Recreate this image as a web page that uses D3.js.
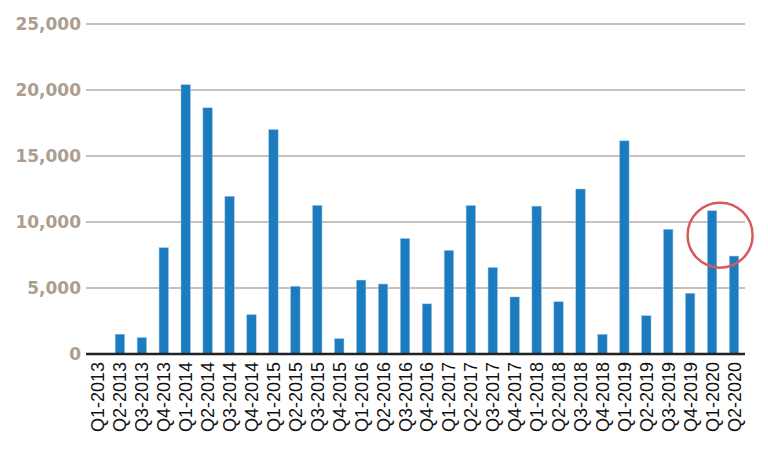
<!DOCTYPE html>
<html><head><meta charset="utf-8">
<script src="https://cdn.jsdelivr.net/npm/d3@7/dist/d3.min.js"></script>
<style>html,body{margin:0;padding:0;background:#fff;}svg{display:block;}</style>
</head><body><svg id="c" width="768" height="453"></svg>
<script>
const categories = ["Q1-2013","Q2-2013","Q3-2013","Q4-2013","Q1-2014","Q2-2014","Q3-2014","Q4-2014",
"Q1-2015","Q2-2015","Q3-2015","Q4-2015","Q1-2016","Q2-2016","Q3-2016","Q4-2016",
"Q1-2017","Q2-2017","Q3-2017","Q4-2017","Q1-2018","Q2-2018","Q3-2018","Q4-2018",
"Q1-2019","Q2-2019","Q3-2019","Q4-2019","Q1-2020","Q2-2020"];
const values = [0,1500,1250,8050,20400,18650,11950,2980,
17000,5130,11260,1160,5600,5300,8750,3800,
7850,11250,6550,4320,11200,3960,12500,1490,
16150,2900,9450,4600,10850,7420];
const yTicks = [0,5000,10000,15000,20000,25000];
const highlight = {category:"Q1-2020", value:9000};

const svg = d3.select("#c");
const x = d3.scaleBand().domain(categories).range([87,745]).paddingInner(0.57).paddingOuter(0.285);
const y = d3.scaleLinear().domain([0,25000]).range([354,24]);

// gridlines
svg.append("g").selectAll("line").data(yTicks.filter(d=>d>0)).join("line")
  .attr("x1",86).attr("x2",745).attr("y1",d=>y(d)).attr("y2",d=>y(d))
  .attr("stroke","#b9ab9c").attr("stroke-width",1.3);

// y labels
svg.append("g").selectAll("text").data(yTicks).join("text")
  .attr("x",81).attr("y",d=>y(d)).attr("dy","0.36em")
  .attr("text-anchor","end")
  .attr("font-family","DejaVu Sans, sans-serif").attr("font-weight","bold")
  .attr("font-size",17).attr("fill","#ab9d8f")
  .text(d=>d3.format(",")(d));

// bars
svg.append("g").selectAll("rect").data(values).join("rect")
  .attr("x",(d,i)=>x(categories[i])).attr("width",x.bandwidth())
  .attr("y",d=>y(d)).attr("height",d=>y(0)-y(d))
  .attr("fill","#1d7bbf").attr("stroke","#9cc5e4").attr("stroke-width",0.5);

// baseline
svg.append("line").attr("x1",86).attr("x2",745).attr("y1",y(0)).attr("y2",y(0))
  .attr("stroke","#222").attr("stroke-width",2.5);

// x labels
svg.append("g").selectAll("text").data(categories).join("text")
  .attr("transform",d=>`translate(${x(d)+x.bandwidth()/2},362) rotate(-90)`)
  .attr("dy","0.36em").attr("text-anchor","end")
  .attr("font-family","Liberation Sans, Arial, sans-serif")
  .attr("font-size",18).attr("fill","#111")
  .text(d=>d);

// highlight circle
svg.append("circle")
  .attr("cx",x(highlight.category)+x.bandwidth()/2+8)
  .attr("cy",y(highlight.value)).attr("r",32.5)
  .attr("fill","none").attr("stroke","#d65a5a").attr("stroke-width",2.5);
</script></body></html>
